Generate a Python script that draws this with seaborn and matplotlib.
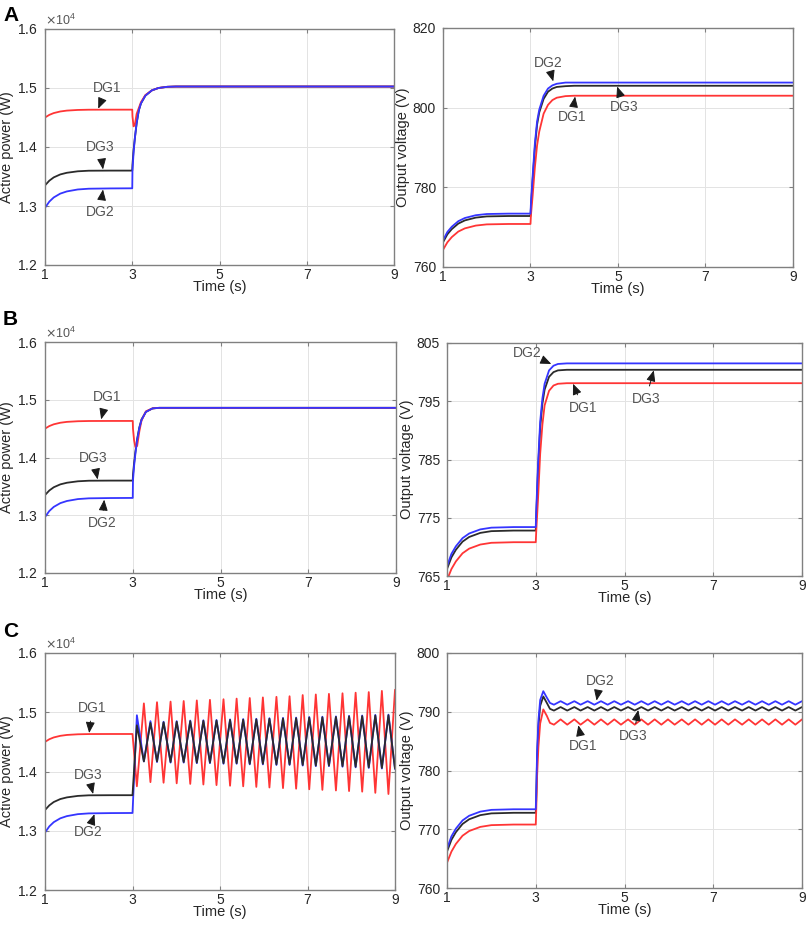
import numpy as np
import pandas as pd
import matplotlib
matplotlib.use("Agg")
import matplotlib.pyplot as plt
import seaborn as sns

# ---- data (time in s, power in W, voltage in V) ----
t_pre = [1.0, 1.1, 1.2, 1.35, 1.5, 1.75, 2.0, 2.5, 3.0]
p1_pre = [14500, 14545, 14575, 14602, 14617, 14628, 14632, 14633, 14633]
p3_pre = [13350, 13430, 13485, 13535, 13563, 13588, 13598, 13600, 13600]
p2_pre = [12970, 13075, 13145, 13210, 13247, 13280, 13293, 13298, 13300]
v1_pre = [764.3, 766.2, 767.5, 768.9, 769.7, 770.4, 770.7, 770.8, 770.8]
v3_pre = [766.2, 768.2, 769.5, 770.9, 771.7, 772.4, 772.7, 772.8, 772.8]
v2_pre = [766.7, 768.8, 770.1, 771.5, 772.3, 773.0, 773.3, 773.4, 773.4]

# A: power
t_pa = [3.005, 3.03, 3.06, 3.1, 3.15, 3.2, 3.3, 3.45, 3.6, 3.8, 4.0, 9.0]
p1_a = [14520, 14350, 14380, 14560, 14660, 14760, 14880, 14960, 15000, 15020, 15025, 15025]
p3_a = [13700, 13950, 14150, 14400, 14620, 14740, 14870, 14960, 15000, 15020, 15025, 15025]
p2_a = [13600, 13900, 14150, 14400, 14620, 14740, 14870, 14960, 15000, 15020, 15025, 15025]
# A: voltage
t_va = [3.01, 3.05, 3.1, 3.15, 3.2, 3.3, 3.4, 3.5, 3.6, 3.8, 4.0, 9.0]
v1_a = [773.0, 778.0, 785.0, 790.5, 794.0, 798.5, 800.7, 801.9, 802.5, 802.9, 803.0, 803.0]
v3_a = [775.0, 782.0, 790.0, 795.7, 798.8, 802.2, 804.0, 804.8, 805.2, 805.4, 805.5, 805.5]
v2_a = [776.0, 783.0, 791.0, 796.5, 799.5, 803.0, 804.8, 805.6, 806.0, 806.3, 806.3, 806.3]

# B: power
t_pb = [3.005, 3.03, 3.06, 3.1, 3.15, 3.2, 3.3, 3.45, 3.6, 9.0]
p1_b = [14500, 14300, 14180, 14200, 14450, 14640, 14800, 14850, 14860, 14860]
p3_b = [13700, 13900, 14100, 14320, 14520, 14660, 14790, 14850, 14860, 14860]
p2_b = [13600, 13850, 14060, 14300, 14510, 14650, 14790, 14850, 14860, 14860]
# B: voltage
t_vb = [3.01, 3.05, 3.1, 3.15, 3.2, 3.3, 3.4, 3.5, 3.7, 9.0]
v1_b = [772.5, 778.0, 786.0, 791.0, 794.3, 796.8, 797.7, 798.0, 798.1, 798.1]
v3_b = [775.0, 783.0, 790.5, 794.6, 797.0, 799.2, 800.0, 800.3, 800.4, 800.4]
v2_b = [776.0, 784.0, 791.5, 795.5, 798.0, 800.3, 801.1, 801.4, 801.5, 801.5]

# C: oscillation extrema times (DG1 power troughs / peaks)
t_lo = [3.10, 3.41, 3.71, 4.01, 4.32, 4.62, 4.92, 5.23, 5.53, 5.83,
        6.13, 6.44, 6.74, 7.04, 7.34, 7.65, 7.95, 8.25, 8.55, 8.85]
t_hi = [3.26, 3.56, 3.87, 4.17, 4.47, 4.77, 5.08, 5.38, 5.68, 5.98,
        6.29, 6.59, 6.89, 7.19, 7.49, 7.80, 8.10, 8.40, 8.70, 9.00]
p1_c_lo = [13750, 13820, 13810, 13800, 13790, 13780, 13770, 13760, 13750, 13740,
           13730, 13720, 13710, 13700, 13690, 13680, 13670, 13660, 13640, 13620]
p1_c_hi = [15150, 15170, 15180, 15190, 15200, 15210, 15220, 15230, 15240, 15250,
           15260, 15270, 15290, 15300, 15310, 15320, 15330, 15340, 15360, 15380]
p3_c_hi = [14780, 14820, 14830, 14840, 14850, 14855, 14860, 14870, 14875, 14880,
           14890, 14895, 14900, 14910, 14915, 14920, 14930, 14935, 14945, 14950]
p3_c_lo = [14170, 14170, 14160, 14160, 14150, 14150, 14140, 14140, 14130, 14130,
           14120, 14120, 14110, 14100, 14100, 14090, 14080, 14070, 14060, 14050]
p2_c_hi = [14950, 14850, 14840, 14850, 14860, 14865, 14870, 14880, 14885, 14890,
           14900, 14905, 14910, 14920, 14925, 14930, 14940, 14945, 14955, 14960]
p2_c_lo = [14170, 14160, 14150, 14150, 14140, 14140, 14130, 14130, 14120, 14120,
           14110, 14110, 14100, 14090, 14090, 14080, 14070, 14060, 14050, 14040]
# C: voltage overshoot then ripple (ripple at t_lo[1:] / t_hi[1:])
t_vc = [3.01, 3.03, 3.06, 3.1, 3.17, 3.25, 3.32]
v1_c = [773.0, 779.0, 784.0, 788.0, 790.4, 789.3, 788.1]
v3_c = [775.0, 782.0, 787.5, 791.0, 792.6, 791.5, 790.5]
v2_c = [776.0, 783.0, 788.5, 792.0, 793.5, 792.4, 791.5]
v1_c_lo = [787.8, 787.8, 787.8, 787.8, 787.8, 787.8, 787.8, 787.8, 787.8, 787.8,
           787.8, 787.8, 787.8, 787.8, 787.8, 787.8, 787.8, 787.8, 787.8]
v1_c_hi = [788.7, 788.7, 788.7, 788.7, 788.7, 788.7, 788.7, 788.7, 788.7, 788.7,
           788.7, 788.7, 788.7, 788.7, 788.7, 788.7, 788.7, 788.7, 788.7]
v3_c_lo = [790.2, 790.2, 790.2, 790.2, 790.2, 790.2, 790.2, 790.2, 790.2, 790.2,
           790.2, 790.2, 790.2, 790.2, 790.2, 790.2, 790.2, 790.2, 790.2]
v3_c_hi = [790.8, 790.8, 790.8, 790.8, 790.8, 790.8, 790.8, 790.8, 790.8, 790.8,
           790.8, 790.8, 790.8, 790.8, 790.8, 790.8, 790.8, 790.8, 790.8]
v2_c_lo = [791.2, 791.2, 791.2, 791.2, 791.2, 791.2, 791.2, 791.2, 791.2, 791.2,
           791.2, 791.2, 791.2, 791.2, 791.2, 791.2, 791.2, 791.2, 791.2]
v2_c_hi = [791.8, 791.8, 791.8, 791.8, 791.8, 791.8, 791.8, 791.8, 791.8, 791.8,
           791.8, 791.8, 791.8, 791.8, 791.8, 791.8, 791.8, 791.8, 791.8]

x_ticks = [1, 3, 5, 7, 9]
colors = {"DG1": "#ff3535", "DG2": "#3535ff", "DG3": "#2b2b2b"}


def alternate(ta, va, tb, vb):
    # merge two extrema lists in time order (a first)
    t, v = [], []
    for i in range(len(ta)):
        t += [ta[i], tb[i]]
        v += [va[i], vb[i]]
    return t, v


def frame(series):
    parts = []
    for name, t, v in series:
        parts.append(pd.DataFrame({"t": t, "val": v, "DG": name}))
    return pd.concat(parts, ignore_index=True)


sns.set_theme(style="whitegrid")
plt.rcParams["font.family"] = ["Liberation Sans", "DejaVu Sans"]

fig = plt.figure(figsize=(8.09, 9.27), dpi=100)
W, H = 809, 927


def add_ax(x0, y0, x1, y1):
    return fig.add_axes([x0 / W, 1 - y1 / H, (x1 - x0) / W, (y1 - y0) / H])


def panel(ax, df, ylim, yticks, ylabel, notes, sci=False, order=("DG3", "DG1", "DG2")):
    sns.lineplot(data=df, x="t", y="val", hue="DG", hue_order=list(order),
                 palette=colors, estimator=None, sort=False, lw=1.3, legend=False, ax=ax)
    ax.set_xlim(1, 9)
    ax.set_ylim(*ylim)
    ax.set_xticks(x_ticks)
    ax.set_yticks(yticks)
    ax.set_facecolor("white")
    ax.grid(True, color="#e3e3e3", lw=0.7)
    for s in ax.spines.values():
        s.set_visible(True)
        s.set_color("#808080")
        s.set_linewidth(1.0)
    ax.tick_params(direction="in", length=3, width=0.8, color="#808080",
                   top=True, right=True, bottom=True, left=True,
                   labelsize=10, labelcolor="#262626")
    ax.tick_params(axis="x", pad=2)
    ax.tick_params(axis="y", pad=5)
    ax.set_xlabel("Time (s)", fontsize=10.5, color="#262626", labelpad=-1)
    ax.set_ylabel(ylabel, fontsize=10.5, color="#262626", labelpad=2)
    if sci:
        ax.ticklabel_format(axis="y", style="sci", scilimits=(4, 4), useMathText=True)
        ax.yaxis.get_offset_text().set_fontsize(9)
        ax.yaxis.get_offset_text().set_color("#555555")
    for txt, xt, xh in notes:
        ax.annotate(txt, xy=xh, xytext=xt, ha="center", va="center", fontsize=10,
                    color="#555555",
                    arrowprops=dict(arrowstyle="-|>,head_length=0.6,head_width=0.25",
                                    color="#1a1a1a", lw=0.7,
                                    mutation_scale=11, shrinkA=2, shrinkB=0))


p_ticks = [12000, 13000, 14000, 15000, 16000]

# ---- row A ----
axA1 = add_ax(45, 29, 394, 265)
dfA1 = frame([("DG1", t_pre + t_pa, p1_pre + p1_a),
              ("DG2", t_pre + t_pa, p2_pre + p2_a),
              ("DG3", t_pre + t_pa, p3_pre + p3_a)])
panel(axA1, dfA1, (12000, 16000), p_ticks, "Active power (W)",
      [("DG1", (2.42, 15000), (2.22, 14650)),
       ("DG3", (2.26, 14000), (2.33, 13620)),
       ("DG2", (2.26, 12900), (2.33, 13280))], sci=True)

axA2 = add_ax(443, 28, 793, 267)
dfA2 = frame([("DG1", t_pre + t_va, v1_pre + v1_a),
              ("DG2", t_pre + t_va, v2_pre + v2_a),
              ("DG3", t_pre + t_va, v3_pre + v3_a)])
panel(axA2, dfA2, (760, 820), [760, 780, 800, 820], "Output voltage (V)",
      [("DG2", (3.4, 811.2), (3.52, 806.6)),
       ("DG1", (3.95, 797.7), (4.02, 802.8)),
       ("DG3", (5.14, 800.2), (4.98, 805.3))])

# ---- row B ----
axB1 = add_ax(45, 342, 396, 573)
dfB1 = frame([("DG1", t_pre + t_pb, p1_pre + p1_b),
              ("DG2", t_pre + t_pb, p2_pre + p2_b),
              ("DG3", t_pre + t_pb, p3_pre + p3_b)])
panel(axB1, dfB1, (12000, 16000), p_ticks, "Active power (W)",
      [("DG1", (2.41, 15050), (2.28, 14660)),
       ("DG3", (2.10, 14000), (2.20, 13620)),
       ("DG2", (2.30, 12860), (2.35, 13270))], sci=True)

axB2 = add_ax(447, 343, 802, 576)
dfB2 = frame([("DG1", t_pre + t_vb, v1_pre + v1_b),
              ("DG2", t_pre + t_vb, v2_pre + v2_b),
              ("DG3", t_pre + t_vb, v3_pre + v3_b)])
panel(axB2, dfB2, (765, 805), [765, 775, 785, 795, 805], "Output voltage (V)",
      [("DG2", (2.80, 803.3), (3.35, 801.4)),
       ("DG1", (4.06, 793.9), (3.84, 798.0)),
       ("DG3", (5.48, 795.4), (5.66, 800.3))])

# ---- row C ----
t1o, p1o = alternate(t_lo, p1_c_lo, t_hi, p1_c_hi)
t3o, p3o = alternate(t_lo, p3_c_hi, t_hi, p3_c_lo)
t2o, p2o = alternate(t_lo, p2_c_hi, t_hi, p2_c_lo)
axC1 = add_ax(45, 653, 395, 890)
dfC1 = frame([("DG1", t_pre + t1o, p1_pre + p1o),
              ("DG2", t_pre + t2o, p2_pre + p2o),
              ("DG3", t_pre + t3o, p3_pre + p3o)])
panel(axC1, dfC1, (12000, 16000), p_ticks, "Active power (W)",
      [("DG1", (2.07, 15070), (2.01, 14650)),
       ("DG3", (1.99, 13940), (2.10, 13620)),
       ("DG2", (1.99, 12980), (2.13, 13280))], sci=True,
      order=("DG1", "DG2", "DG3"))

tv1, vv1 = alternate(t_lo[1:], v1_c_lo, t_hi[1:], v1_c_hi)
tv3, vv3 = alternate(t_lo[1:], v3_c_lo, t_hi[1:], v3_c_hi)
tv2, vv2 = alternate(t_lo[1:], v2_c_lo, t_hi[1:], v2_c_hi)
axC2 = add_ax(447, 653, 802, 888)
dfC2 = frame([("DG1", t_pre + t_vc + tv1, v1_pre + v1_c + vv1),
              ("DG2", t_pre + t_vc + tv2, v2_pre + v2_c + vv2),
              ("DG3", t_pre + t_vc + tv3, v3_pre + v3_c + vv3)])
panel(axC2, dfC2, (760, 800), [760, 770, 780, 790, 800], "Output voltage (V)",
      [("DG2", (4.45, 795.2), (4.37, 791.9)),
       ("DG1", (4.06, 784.1), (3.96, 787.7)),
       ("DG3", (5.20, 785.8), (5.31, 790.3))])

for letter, y in [("A", 6), ("B", 310), ("C", 622)]:
    fig.text(3 / W, 1 - y / H, letter, fontsize=15, fontweight="bold",
             va="top", ha="left", color="black")

fig.savefig("out.png", dpi=100)
